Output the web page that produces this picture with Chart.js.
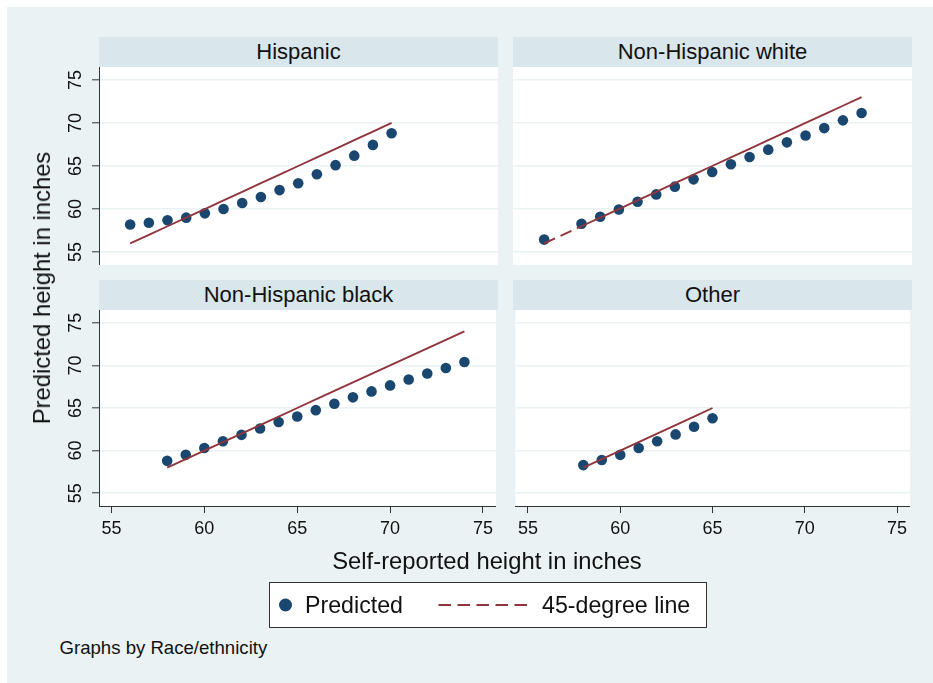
<!DOCTYPE html>
<html>
<head>
<meta charset="utf-8">
<script src="https://cdn.jsdelivr.net/npm/chart.js@4/dist/chart.umd.min.js"></script>
<style>
html,body{margin:0;padding:0;background:#fff;width:933px;height:683px;overflow:hidden;font-family:"Liberation Sans",Arial,Helvetica,sans-serif;}
#bg{position:absolute;left:7px;top:7px;width:926px;height:676px;background:#eaf2f3;}
.hdr{position:absolute;height:30px;line-height:30px;background:#d9e6eb;text-align:center;font-size:22px;color:#111;white-space:nowrap;}
canvas{position:absolute;}
.txt{position:absolute;white-space:nowrap;color:#111;}
#legend{position:absolute;left:269px;top:582px;width:436px;height:44px;border:1px solid #333;background:#fff;}
</style>
</head>
<body>
<div id="bg"></div>

<div class="hdr" id="h0" style="left:99px;top:37px;width:399px;"></div>
<div class="hdr" id="h1" style="left:513px;top:37px;width:399px;"></div>
<div class="hdr" id="h2" style="left:99px;top:280px;width:399px;"></div>
<div class="hdr" id="h3" style="left:513px;top:280px;width:399px;"></div>

<canvas id="c0" width="448" height="198" style="left:50px;top:67px;"></canvas>
<canvas id="c1" width="399" height="198" style="left:513px;top:67px;"></canvas>
<canvas id="c2" width="448" height="240" style="left:50px;top:310px;"></canvas>
<canvas id="c3" width="399" height="240" style="left:513px;top:310px;"></canvas>

<div class="txt" style="left:42px;top:288px;font-size:23.8px;line-height:30px;transform:translate(-50%,-50%) rotate(-90deg);">Predicted height in inches</div>
<div class="txt" style="left:487px;top:561px;font-size:23.8px;line-height:30px;transform:translate(-50%,-50%);">Self-reported height in inches</div>

<div id="legend">
  <svg width="436" height="44" style="position:absolute;left:0;top:0;">
    <circle cx="15.5" cy="22" r="6.5" fill="#1a476f"></circle>
    <line x1="168.5" y1="22" x2="258" y2="22" stroke="#90353b" stroke-width="2" stroke-dasharray="12.5,6.5"></line>
  </svg>
  <div class="txt" style="left:35px;top:7px;font-size:23.2px;line-height:30px;">Predicted</div>
  <div class="txt" style="left:272px;top:7px;font-size:23.2px;line-height:30px;">45-degree line</div>
</div>

<div class="txt" style="left:59.5px;top:636px;font-size:18.6px;line-height:24px;">Graphs by Race/ethnicity</div>

<script>
// ---- data ----
const panelTitles = ["Hispanic", "Non-Hispanic white", "Non-Hispanic black", "Other"];
const xTicks = [55, 60, 65, 70, 75];
const yTicks = [55, 60, 65, 70, 75];

const hispX    = [56, 57, 58, 59, 60, 61, 62, 63, 64, 65, 66, 67, 68, 69, 70];
const hispPred = [58.2, 58.4, 58.7, 59.0, 59.5, 60.0, 60.7, 61.4, 62.2, 63.0, 64.05, 65.1, 66.2, 67.45, 68.8];

const whiteX    = [56, 58, 59, 60, 61, 62, 63, 64, 65, 66, 67, 68, 69, 70, 71, 72, 73];
const whitePred = [56.45, 58.3, 59.1, 59.95, 60.85, 61.7, 62.6, 63.45, 64.3, 65.2, 66.05, 66.9, 67.75, 68.55, 69.4, 70.3, 71.15];

const blackX    = [58, 59, 60, 61, 62, 63, 64, 65, 66, 67, 68, 69, 70, 71, 72, 73, 74];
const blackPred = [58.8, 59.5, 60.3, 61.1, 61.85, 62.6, 63.35, 64.0, 64.75, 65.5, 66.25, 66.95, 67.65, 68.35, 69.05, 69.7, 70.4];

const otherX    = [58, 59, 60, 61, 62, 63, 64, 65];
const otherPred = [58.3, 58.9, 59.5, 60.3, 61.1, 61.9, 62.8, 63.8];

// ---- styling ----
const NAVY = "#1a476f";
const MAROON = "#90353b";
const GRID = "#eaf2f3";
const AXIS = "#333333";
const FONT = "'Liberation Sans', Arial, Helvetica, sans-serif";

panelTitles.forEach((t, i) => { document.getElementById("h" + i).textContent = t; });

const plotBg = {
  id: "plotBg",
  beforeDraw(chart) {
    const a = chart.chartArea, ctx = chart.ctx;
    ctx.save();
    ctx.fillStyle = "#ffffff";
    ctx.fillRect(a.left, a.top, a.right - a.left, a.bottom - a.top);
    ctx.restore();
  }
};

const rotYLabels = {
  id: "rotYLabels",
  afterDraw(chart, args, opts) {
    if (!opts.show) return;
    const s = chart.scales.y, ctx = chart.ctx;
    ctx.save();
    ctx.fillStyle = "#111";
    ctx.font = "18px " + FONT;
    ctx.textAlign = "center";
    ctx.textBaseline = "middle";
    s.ticks.forEach(t => {
      const y = s.getPixelForValue(t.value);
      ctx.save();
      ctx.translate(chart.chartArea.left - 24, y);
      ctx.rotate(-Math.PI / 2);
      ctx.fillText(String(t.value), 0, 1);
      ctx.restore();
    });
    ctx.restore();
  }
};

function makePanel(id, xs, preds, showY, showX) {
  const ctx = document.getElementById(id);
  return new Chart(ctx, {
    type: "scatter",
    data: {
      datasets: [
        {
          label: "45-degree line",
          data: xs.map(x => ({ x: x, y: x })),
          showLine: true,
          pointRadius: 0,
          borderColor: MAROON,
          borderWidth: 1.9,
          borderDash: [],
          segment: {
            borderDash: c => (c.p1.parsed.x - c.p0.parsed.x > 1 ? [12, 6] : undefined)
          },
          order: 0
        },
        {
          label: "Predicted",
          data: xs.map((x, i) => ({ x: x, y: preds[i] })),
          pointRadius: 5.3,
          pointBackgroundColor: NAVY,
          pointBorderWidth: 0,
          order: 1
        }
      ]
    },
    options: {
      responsive: false,
      animation: false,
      devicePixelRatio: 1,
      layout: { padding: 0, autoPadding: false },
      plugins: {
        legend: { display: false },
        tooltip: { enabled: false },
        rotYLabels: { show: showY }
      },
      scales: {
        x: {
          type: "linear",
          min: 54.33,
          max: 75.7,
          display: showX,
          afterBuildTicks: s => { s.ticks = xTicks.map(v => ({ value: v })); },
          afterFit: s => { s.height = showX ? 44 : 0; },
          grid: { drawOnChartArea: false, drawTicks: true, tickLength: 7, tickColor: AXIS, tickWidth: 1 },
          border: { display: true, color: AXIS, width: 1 },
          ticks: { color: "#111", font: { family: FONT, size: 18 }, padding: 5, maxRotation: 0, minRotation: 0 }
        },
        y: {
          type: "linear",
          min: 53.5,
          max: 76.5,
          afterBuildTicks: s => { s.ticks = yTicks.map(v => ({ value: v })); },
          afterFit: s => { s.width = showY ? 49 : 0; },
          grid: {
            color: GRID,
            lineWidth: 1.6,
            drawTicks: showY,
            tickLength: 7,
            tickColor: AXIS,
            tickWidth: 1
          },
          border: { display: showY, color: AXIS, width: 1 },
          ticks: { display: false }
        }
      }
    },
    plugins: [plotBg, rotYLabels]
  });
}

makePanel("c0", hispX, hispPred, true, false);
makePanel("c1", whiteX, whitePred, false, false);
makePanel("c2", blackX, blackPred, true, true);
makePanel("c3", otherX, otherPred, false, true);
</script>
</body>
</html>
